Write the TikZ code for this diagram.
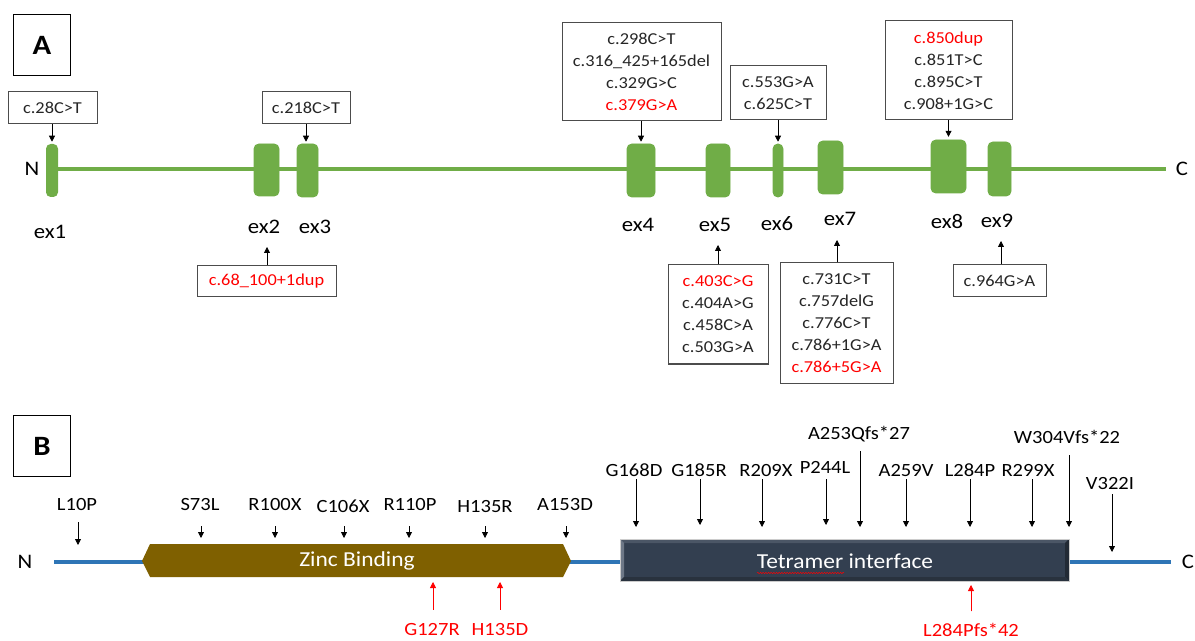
\documentclass[tikz,border=0pt]{standalone}
\usepackage{fontspec}
\setmainfont{Carlito}[FakeStretch=1.1]
\usetikzlibrary{arrows.meta,decorations.pathmorphing}
\definecolor{exgreen}{HTML}{70AD47}
\definecolor{lineblue}{HTML}{2E75B6}
\definecolor{zincbrown}{HTML}{7F6000}
\definecolor{tetnavy}{HTML}{333F50}
\definecolor{tetlight}{HTML}{6E7887}
\definecolor{tettop}{HTML}{4B5666}
\definecolor{tetdark}{HTML}{222A35}
\definecolor{tetbot}{HTML}{29323E}
\definecolor{mutred}{HTML}{FF0000}
\tikzset{
  mutbox/.style={draw=black!70, line width=0.75pt, fill=white, inner sep=0pt, align=center,
    text=black!85, font=\fontsize{12.5}{16.5}\selectfont},
  exon/.style={fill=exgreen, rounded corners=3.5pt, inner sep=0pt},
  exlbl/.style={font=\fontsize{15.5}{18}\selectfont, anchor=base, inner sep=0pt},
  termlbl/.style={font=\fontsize{15.5}{18}\selectfont, inner sep=0pt},
  plbl/.style={font=\fontsize{14}{16}\selectfont, anchor=base, inner sep=0pt},
  panelbox/.style={draw=black, line width=1.4pt, inner sep=0pt, font=\fontsize{21}{24}\selectfont\bfseries},
  arr/.style={-{Triangle[length=4.5pt,width=4.5pt]}, line width=0.6pt, draw=black},
  redarr/.style={arr, draw=mutred, fill=mutred},
}
\newcommand\mutdown[7]{%
  \node[plbl] (#1) at (#3,#4) {#2};
  \coordinate (#1t) at (#5,#7);
  \draw[arr, shorten <={(#6-#4)*0.75pt}] (#1.base -| #1t) -- (#1t);}
\newcommand\mutup[7]{%
  \node[plbl, text=mutred] (#1) at (#3,#4) {#2};
  \coordinate (#1t) at (#5,#7);
  \draw[redarr, shorten <={(#4-12-#6)*0.75pt}] (#1.north -| #1t) -- (#1t);}
\begin{document}
\begin{tikzpicture}[x=0.75pt,y=-0.75pt]
\useasboundingbox (0,0) rectangle (1195,641);

% ---------------- Panel A ----------------
\node[panelbox, minimum width=57*0.75pt, minimum height=61*0.75pt] (pA) at (42,45) {A};

% exons
\node[exon, minimum width=12*0.75pt, minimum height=53*0.75pt] (ex1) at (52,170.5) {};
\node[exon, minimum width=25*0.75pt, minimum height=52*0.75pt] (ex2) at (266.5,170) {};
\node[exon, minimum width=21*0.75pt, minimum height=53*0.75pt] (ex3) at (307.5,170.5) {};
\node[exon, minimum width=28*0.75pt, minimum height=53*0.75pt] (ex4) at (641,170.5) {};
\node[exon, minimum width=24*0.75pt, minimum height=53*0.75pt] (ex5) at (718,170.5) {};
\node[exon, minimum width=10*0.75pt, minimum height=53*0.75pt] (ex6) at (778,170.5) {};
\node[exon, minimum width=25*0.75pt, minimum height=53*0.75pt] (ex7) at (830.5,167.5) {};
\node[exon, minimum width=35*0.75pt, minimum height=53*0.75pt] (ex8) at (948.5,166.5) {};
\node[exon, minimum width=23*0.75pt, minimum height=54*0.75pt] (ex9) at (999.5,169) {};

\node[termlbl] (nA) at (32,169) {N};
\node[termlbl] (cA) at (1182,169) {C};
\draw[exgreen, line width=2.4pt] (ex1.east |- 0,169) -- (1166,169) coordinate (lineAend);
% redraw exons over line
\foreach \e in {ex2,ex3,ex4,ex5,ex6,ex7,ex8,ex9}{
  \fill[exgreen, rounded corners=3.5pt] (\e.south west) rectangle (\e.north east);}

% exon labels
\node[exlbl] (l1) at (50,238.5) {ex1};
\node[exlbl] (l2) at (264,233.5) {ex2};
\node[exlbl] (l3) at (315,233.5) {ex3};
\node[exlbl] (l4) at (638,231.5) {ex4};
\node[exlbl] (l5) at (715,231.5) {ex5};
\node[exlbl] (l6) at (777,230.5) {ex6};
\node[exlbl] (l7) at (840,225.5) {ex7};
\node[exlbl] (l8) at (947,228.5) {ex8};
\node[exlbl] (l9) at (997,227.5) {ex9};

% mutation boxes (top)
\node[mutbox, minimum width=89*0.75pt, minimum height=32*0.75pt] (b1) at (52.5,108) {c.28C>T};
\node[mutbox, minimum width=88*0.75pt, minimum height=32*0.75pt] (b2) at (306,108) {c.218C>T};
\node[mutbox, minimum width=159*0.75pt, minimum height=98*0.75pt] (b4) at (641.5,72)
  {c.298C>T\\c.316\_425+165del\\c.329G>C\\\textcolor{mutred}{c.379G>A}};
\node[mutbox, minimum width=96*0.75pt, minimum height=54*0.75pt] (b6) at (778,93)
  {c.553G>A\\c.625C>T};
\node[mutbox, minimum width=127*0.75pt, minimum height=99*0.75pt] (b8) at (948.5,70.5)
  {\textcolor{mutred}{c.850dup}\\c.851T>C\\c.895C>T\\c.908+1G>C};

% mutation boxes (bottom)
\node[mutbox, text=mutred, minimum width=139*0.75pt, minimum height=31*0.75pt] (b3) at (266.5,281.5) {c.68\_100+1dup};
\node[mutbox, minimum width=100*0.75pt, minimum height=99*0.75pt] (b5) at (718,314.5)
  {\textcolor{mutred}{c.403C>G}\\c.404A>G\\c.458C>A\\c.503G>A};
\node[mutbox, minimum width=113*0.75pt, minimum height=120*0.75pt] (b7) at (836.5,323)
  {c.731C>T\\c.757delG\\c.776C>T\\c.786+1G>A\\\textcolor{mutred}{c.786+5G>A}};
\node[mutbox, minimum width=93*0.75pt, minimum height=32*0.75pt] (b9) at (999.5,281) {c.964G>A};

% arrows panel A
\draw[arr, shorten >=1.5pt] (b1.south -| ex1) -- (ex1.north);
\draw[arr, shorten >=1.5pt] (b2.south) -- (b2.south |- ex3.north);
\draw[arr, shorten >=1.5pt] (b4.south -| ex4) -- (ex4.north);
\draw[arr, shorten >=1.5pt] (b6.south -| ex6) -- (ex6.north);
\draw[arr, shorten >=2.2pt] (b8.south -| ex8) -- (ex8.north);
\coordinate (t3) at (267,247);
\coordinate (t5) at (718,245);
\coordinate (t7) at (837,240);
\coordinate (t9) at (1001,241);
\draw[arr] (b3.north -| t3) -- (t3);
\draw[arr] (b5.north -| t5) -- (t5);
\draw[arr] (b7.north -| t7) -- (t7);
\draw[arr] (b9.north -| t9) -- (t9);

% ---------------- Panel B ----------------
\node[panelbox, minimum width=57*0.75pt, minimum height=61*0.75pt] (pB) at (42,446) {B};

\node[termlbl] (nB) at (25,562) {N};
\node[termlbl] (cB) at (1188,562) {C};
\draw[lineblue, line width=2.4pt] (54,562) coordinate (lineBstart) -- (1171,562) coordinate (lineBend);

% zinc binding domain
\fill[zincbrown] (142,561) -- (150,544) -- (563,544) -- (571,561) -- (563,577) -- (150,577) -- cycle;
\node[text=white, font=\fontsize{16}{18}\selectfont, inner sep=0pt] (zinc) at (357,561) {Zinc Binding};

% tetramer interface domain
\node[fill=tetnavy, draw=black!20, line width=0.4pt, minimum width=449*0.75pt, minimum height=42*0.75pt, inner sep=0pt] (tet) at (844.5,560) {};
\fill[tettop] (620,539) -- (1069,539) -- (1065,543) -- (624,543) -- cycle;
\fill[tetlight] (620,539) -- (624,543) -- (624,577) -- (620,581) -- cycle;
\fill[tetdark] (1069,539) -- (1069,581) -- (1065,577) -- (1065,543) -- cycle;
\fill[tetbot] (620,581) -- (1069,581) -- (1065,577) -- (624,577) -- cycle;
\draw[black!20, line width=0.4pt] (620,539) rectangle (1069,581);
\node[text=white, font=\fontsize{16}{18}\selectfont, inner sep=0pt] (tettxt) at (845,561) {Tetramer interface};
\draw[mutred, line width=0.35pt, decorate, decoration={snake, amplitude=0.5pt, segment length=2pt}] (757,573) -- (844,573);

% mutations on protein
\mutdown{L10P}{L10P}{77}{510}{78}{522}{545}
\mutdown{S73L}{S73L}{200}{510}{201}{526}{538}
\mutdown{R100X}{R100X}{275}{510}{275}{526}{538}
\mutdown{C106X}{C106X}{343}{512}{344}{526}{538}
\mutdown{R110P}{R110P}{410}{510}{409}{526}{538}
\mutdown{H135R}{H135R}{485}{512}{485}{526}{538}
\mutdown{A153D}{A153D}{565}{510}{566}{526}{538}

\mutdown{G168D}{G168D}{634}{476}{636}{479}{527}
\mutdown{G185R}{G185R}{699}{476}{700}{479}{525}
\mutdown{R209X}{R209X}{766}{476}{762}{479}{527}
\mutdown{P244L}{P244L}{825}{473}{826}{479}{525}
\mutdown{A253Q}{A253Qfs*27}{859}{439}{860}{451}{527}
\mutdown{A259V}{A259V}{906}{476}{906}{479}{527}
\mutdown{L284P}{L284P}{970}{476}{970}{479}{527}
\mutdown{R299X}{R299X}{1028}{476}{1032}{479}{527}
\mutdown{W304V}{W304Vfs*22}{1067}{443}{1069}{455}{527}
\mutdown{V322I}{V322I}{1110}{489}{1112}{494}{552}

\mutup{G127R}{G127R}{432}{635}{433}{610}{582}
\mutup{H135D}{H135D}{500}{635}{500}{610}{582}
\mutup{L284Pfs}{L284Pfs*42}{971}{636}{971}{613}{585}
\end{tikzpicture}
\end{document}
